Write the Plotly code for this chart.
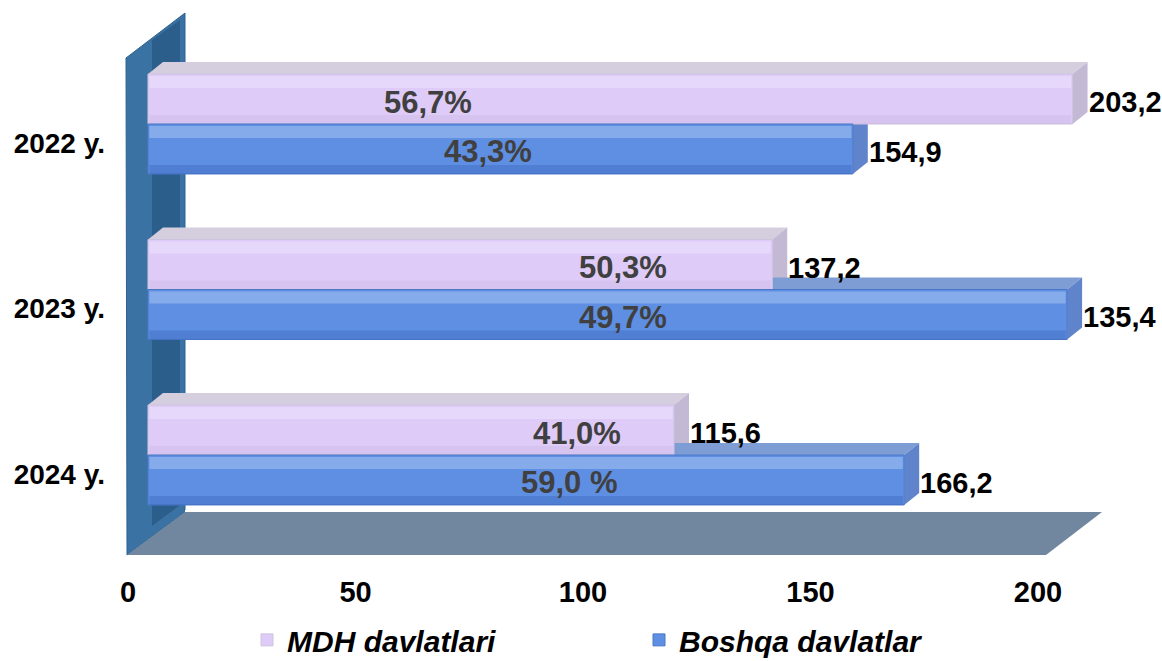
import plotly.graph_objects as go

# ---------------- data ----------------
years = ["2022 y.", "2023 y.", "2024 y."]
series_names = ["MDH davlatlari", "Boshqa davlatlar"]
mdh_values = [203.2, 137.2, 115.6]          # labelled values
boshqa_values = [154.9, 135.4, 166.2]       # labelled values
# bar lengths as drawn in the picture (2023 "Boshqa" bar is drawn ~202 long)
mdh_bar_len = [203.2, 137.2, 115.6]
boshqa_bar_len = [154.9, 202.0, 166.2]
mdh_pct = ["56,7%", "50,3%", "41,0%"]
boshqa_pct = ["43,3%", "49,7%", "59,0 %"]
x_ticks = [0, 50, 100, 150, 200]

# ---------------- styling / geometry ----------------
W, H = 1162, 661
X0PIX, XS = 148.0, 4.55      # pixel of value 0, pixels per unit
Y0PIX, YS = 124.0, 165.5     # pixel of category 0, pixels per category
ML, MR, MT, MB = 125, 3, 10, 104
BARGAP = 0.396
BW = (1 - BARGAP) / 2
DX = 15 / XS                 # 3D depth (x) in data units
DY = 12 / YS                 # 3D depth (y) in data units

def xd(px):
    return (px - X0PIX) / XS

def yd(py):
    return (py - Y0PIX) / YS

# x positions (in data units) of the percentage labels inside the bars
mdh_pct_pos = [xd(428), xd(623), xd(577)]
boshqa_pct_pos = [xd(488), xd(623), xd(569)]

PINK = "#DECBF8"
PINK_TOP = "#D4CEDF"
PINK_SIDE = "#C3B9D4"
BLUE = "#5E8FE3"
BLUE_TOP = "#7E9DD4"
BLUE_SIDE = "#5F84CB"
FONT = "Liberation Sans, Arial, sans-serif"

ypos = list(range(len(years)))

fig = go.Figure()
fig.add_trace(go.Bar(
    y=ypos, x=mdh_bar_len, orientation="h", name=series_names[0],
    marker=dict(color=PINK, line=dict(color="#CFC3E0", width=1)),
    hoverinfo="skip",
))
fig.add_trace(go.Bar(
    y=ypos, x=boshqa_bar_len, orientation="h", name=series_names[1],
    marker=dict(color=BLUE, line=dict(color="#4A78C8", width=1)),
    hoverinfo="skip",
))

def poly(pts):
    return "M " + " L ".join(f"{xd(a)},{yd(b)}" for a, b in pts) + " Z"

shapes = []
# back (left) wall
shapes.append(dict(type="path", xref="x", yref="y", layer="below",
                   path=poly([(126, 58), (185, 13), (185, 512), (127, 555)]),
                   fillcolor="#3A72A3", line=dict(color="#2F628F", width=1)))
# darker inner shading of wall
shapes.append(dict(type="path", xref="x", yref="y", layer="below",
                   path=poly([(152, 40), (180, 20), (180, 505), (152, 526)]),
                   fillcolor="#2C5E8C", line=dict(width=0)))
# floor
shapes.append(dict(type="path", xref="x", yref="y", layer="below",
                   path=poly([(127, 555), (1046, 555), (1102, 512), (185, 512)]),
                   fillcolor="#70879F", line=dict(width=0)))
shapes.append(dict(type="line", xref="x", yref="y", layer="below",
                   x0=xd(185), y0=yd(511), x1=xd(1102), y1=yd(511),
                   line=dict(color="#FFFFFF", width=2)))

# 3D faces and shading of bars
HL = 12 / YS   # highlight band height
SH = 9 / YS    # bottom shade height
for s, (lens, top_c, side_c) in enumerate([(mdh_bar_len, PINK_TOP, PINK_SIDE),
                                           (boshqa_bar_len, BLUE_TOP, BLUE_SIDE)]):
    for j, L in enumerate(lens):
        ytop = j - BW + s * BW
        ybot = ytop + BW
        shapes.append(dict(type="path", xref="x", yref="y", layer="below",
                           path=f"M 0,{ytop} L {L},{ytop} L {L+DX},{ytop-DY} L {DX},{ytop-DY} Z",
                           fillcolor=top_c, line=dict(width=0)))
        shapes.append(dict(type="path", xref="x", yref="y", layer="below",
                           path=f"M {L},{ytop} L {L+DX},{ytop-DY} L {L+DX},{ybot-DY} L {L},{ybot} Z",
                           fillcolor=side_c, line=dict(width=0)))
        # light band near top of front face
        shapes.append(dict(type="rect", xref="x", yref="y", layer="above",
                           x0=0.3, x1=L - 0.3, y0=ytop + 2 / YS, y1=ytop + 2 / YS + HL,
                           fillcolor="#FFFFFF", opacity=0.25,
                           line=dict(width=0)))
        # darker band near bottom of front face
        shapes.append(dict(type="rect", xref="x", yref="y", layer="above",
                           x0=0.3, x1=L - 0.3, y0=ybot - SH, y1=ybot,
                           fillcolor="#1A3D8F" if s == 1 else "#7A6A95",
                           opacity=0.2 if s == 1 else 0.08, line=dict(width=0)))

annotations = []
for s, (lens, vals, pcts, ppos) in enumerate([
        (mdh_bar_len, mdh_values, mdh_pct, mdh_pct_pos),
        (boshqa_bar_len, boshqa_values, boshqa_pct, boshqa_pct_pos)]):
    for j in range(len(years)):
        yc = j - BW / 2 + s * BW
        annotations.append(dict(
            x=lens[j], y=yc, xref="x", yref="y", xanchor="left", yanchor="middle",
            xshift=DX * XS - 1, yshift=-3, showarrow=False,
            text=f"{vals[j]:.1f}".replace(".", ","),
            font=dict(family=FONT, size=29, color="#000000", weight="bold")))
        annotations.append(dict(
            x=ppos[j], y=yc, xref="x", yref="y", xanchor="center", yanchor="middle",
            yshift=-3, showarrow=False, text=pcts[j],
            font=dict(family=FONT, size=31, color="#404040", weight="bold")))

fig.update_layout(
    width=W, height=H,
    margin=dict(l=ML, r=MR, t=MT, b=MB, autoexpand=False),
    paper_bgcolor="#FFFFFF", plot_bgcolor="rgba(0,0,0,0)",
    barmode="group", bargap=BARGAP, bargroupgap=0,
    showlegend=True,
    legend=dict(orientation="h", x=0.118, xanchor="left", y=-0.104, yanchor="top",
                font=dict(family=FONT, size=30, color="#000000", style="italic", weight="bold"),
                entrywidth=347, traceorder="normal", bgcolor="rgba(0,0,0,0)"),
    xaxis=dict(range=[xd(ML), xd(W - MR)], tickvals=x_ticks, automargin=False,
               ticktext=[str(v) for v in x_ticks], showgrid=False, zeroline=False,
               showline=False, ticks="", ticklabelshift=-20, ticklabelstandoff=15,
               tickfont=dict(family=FONT, size=29, color="#000000", weight="bold")),
    yaxis=dict(range=[yd(H - MB), yd(MT)], tickvals=ypos, ticktext=years, automargin=False,
               showgrid=False, zeroline=False, showline=False, ticks="",
               ticklabelshift=-19, ticklabelstandoff=19,
               tickfont=dict(family=FONT, size=28, color="#000000", weight="bold")),
    shapes=shapes,
    annotations=annotations,
)

fig.write_html("out.html", config={"displayModeBar": False},
               post_script="document.body.style.margin='0';document.body.style.overflow='hidden';")
